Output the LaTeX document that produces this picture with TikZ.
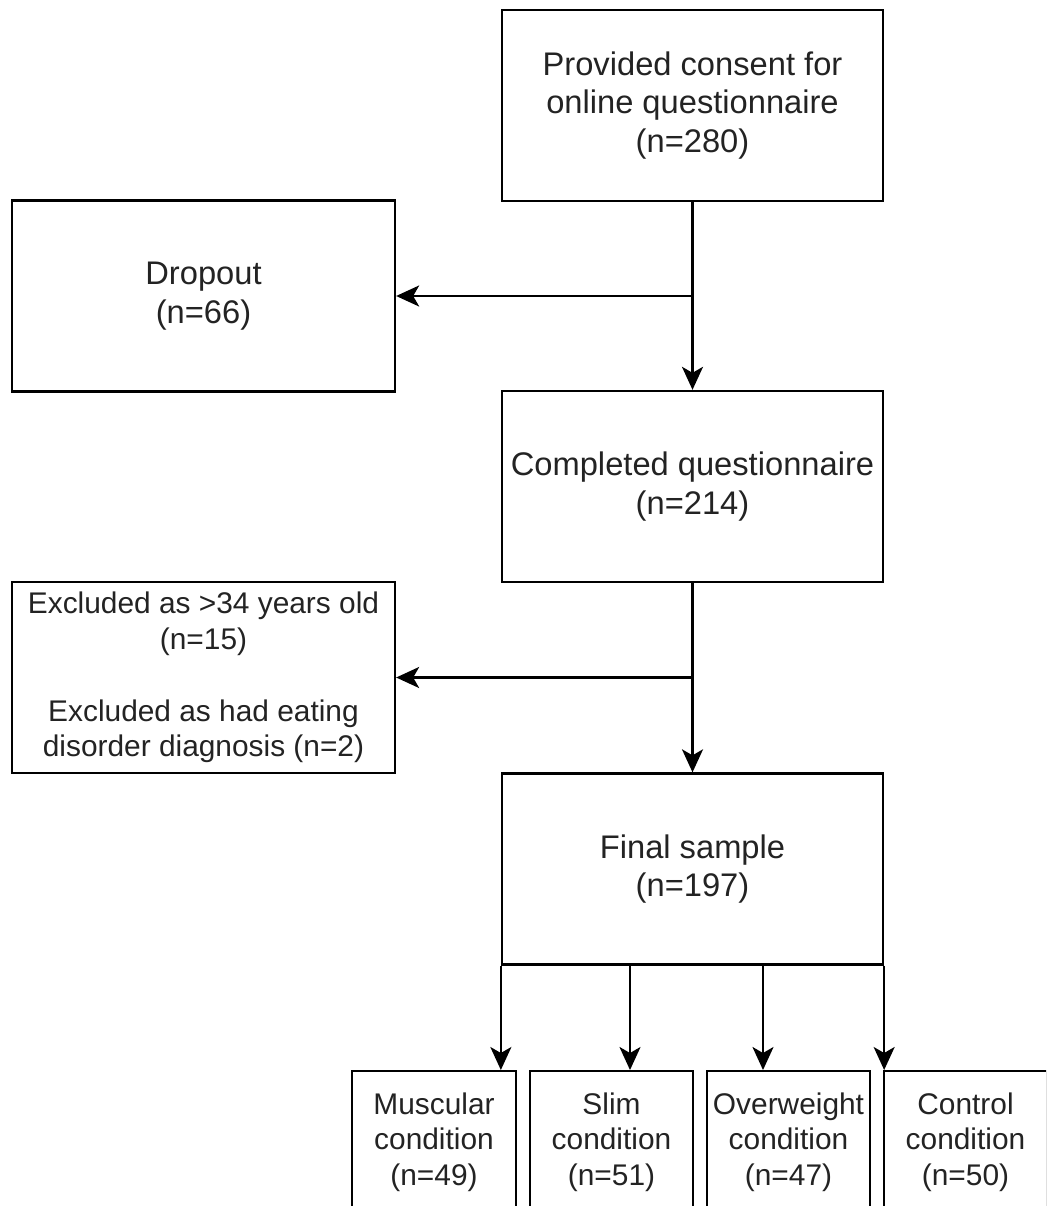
\documentclass[tikz,border=0pt]{standalone}
\usepackage{fontspec}
\setmainfont{Liberation Sans}
\usetikzlibrary{positioning,arrows.meta}
\definecolor{inkgray}{RGB}{35,35,35}

\begin{document}
\begin{tikzpicture}[x=0.02cm, y=-0.02cm,
  stage/.style={draw, line width=1.35pt, minimum width=7.62cm, minimum height=3.82cm, align=center, inner sep=0pt,
    font=\fontsize{18.6}{21.8}\selectfont},
  note/.style={stage, font=\fontsize{17}{20.4}\selectfont},
  group/.style={draw, line width=1.35pt, minimum width=3.27cm, minimum height=2.84cm, align=center, inner sep=0pt, anchor=north,
    font=\fontsize{17}{20.4}\selectfont},
  flow/.style={line width=1.35pt, -{Stealth[length=0.46cm, width=0.42cm, inset=0.12cm]}},
  every node/.style={text=inkgray}
]
\useasboundingbox (0,0) rectangle (1046,1206);
\clip (0,0) rectangle (1046,1206);

\node[stage] (consent) at (692.5,105.5) {Provided consent for\\online questionnaire\\(n=280)};
\node[stage, minimum width=7.66cm] (dropout) at (203.5,296) {Dropout\\(n=66)};
\node[stage] (completed) at (692.5,486.5) {Completed questionnaire\\(n=214)};
\node[note, minimum width=7.66cm] (excluded) at (203.5,677.5)
  {Excluded as >34 years old\\(n=15)\\[20.4pt]Excluded as had eating\\disorder diagnosis (n=2)};
\node[stage] (final) at (692.5,869) {Final sample\\(n=197)};

\node[group] (muscular) at (434,1070) {Muscular\\condition\\(n=49)};
\node[group] (slim) at (611.5,1070) {Slim\\condition\\(n=51)};
\node[group] (overweight) at (788.5,1070) {Overweight\\condition\\(n=47)};
\node[group] (control) at (965.5,1070) {Control\\condition\\(n=50)};

\draw[flow] (consent) -- (completed);
\draw[flow] (consent.south |- dropout) -- (dropout);
\draw[flow] (completed) -- (final);
\draw[flow] (completed.south |- excluded) -- (excluded);

\coordinate (tap2) at (630,965);
\coordinate (tap3) at (763,965);
\draw[flow] (final.south west) -- (final.south west |- muscular.north);
\draw[flow] (tap2) -- (tap2 |- slim.north);
\draw[flow] (tap3) -- (tap3 |- overweight.north);
\draw[flow] (final.south east) -- (final.south east |- control.north);
\end{tikzpicture}
\end{document}
